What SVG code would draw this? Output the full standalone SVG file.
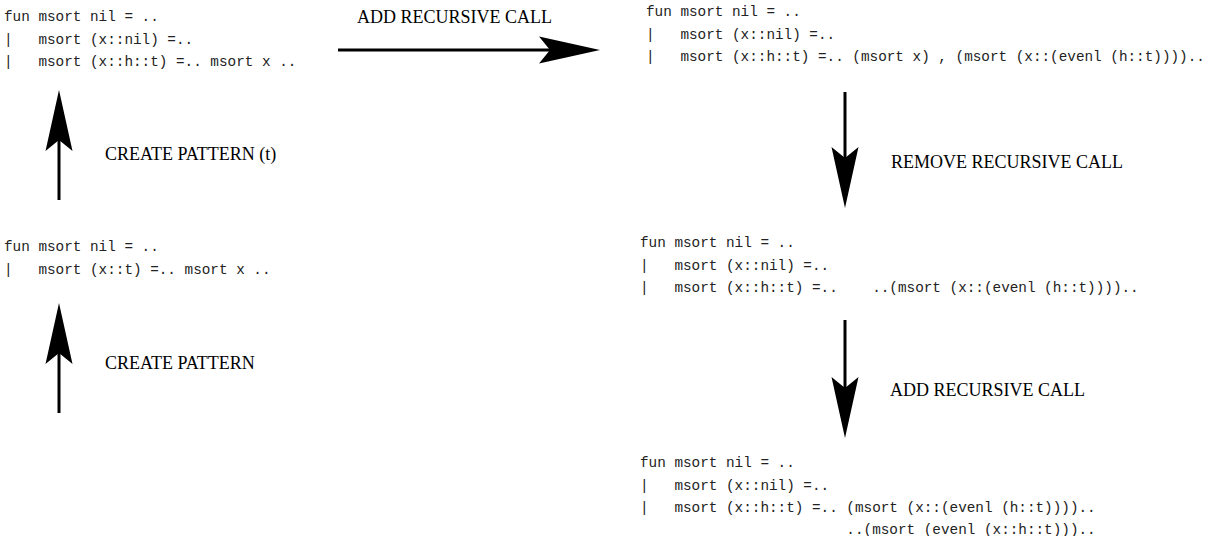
<svg xmlns="http://www.w3.org/2000/svg" width="1215" height="536" viewBox="0 0 1215 536" xml:space="preserve">
<style>
.code{font-family:"Liberation Mono","Courier New",monospace;font-size:14.33px;fill:#222;white-space:pre}
.lbl{font-family:"Liberation Serif","Times New Roman",serif;font-size:18px;fill:#000}
.shaft{stroke:#000;stroke-width:3;fill:none;marker-end:url(#head)}
</style>
<defs>
<marker id="head" markerUnits="userSpaceOnUse" markerWidth="62" markerHeight="28" refX="11" refY="13.5" orient="auto" overflow="visible">
<path d="M0,0 L61,13.5 L0,27 L11,13.5 Z" fill="#000"/>
</marker>
</defs>
<rect width="1215" height="536" fill="#fff"/>
<g id="n1">
<text class="code" x="4" y="21">fun msort nil = ..</text>
<text class="code" x="4" y="43.5">|   msort (x::nil) =..</text>
<text class="code" x="4" y="66">|   msort (x::h::t) =.. msort x ..</text>
</g>
<g id="n2">
<text class="code" x="646" y="16">fun msort nil = ..</text>
<text class="code" x="646" y="38.5">|   msort (x::nil) =..</text>
<text class="code" x="646" y="61">|   msort (x::h::t) =.. (msort x) , (msort (x::(evenl (h::t)))).. </text>
</g>
<g id="n3">
<text class="code" x="640" y="247">fun msort nil = ..</text>
<text class="code" x="640" y="269.5">|   msort (x::nil) =..</text>
<text class="code" x="640" y="292">|   msort (x::h::t) =..    ..(msort (x::(evenl (h::t))))..</text>
</g>
<g id="n4">
<text class="code" x="4" y="251">fun msort nil = ..</text>
<text class="code" x="4" y="273.5">|   msort (x::t) =.. msort x ..</text>
</g>
<g id="n5">
<text class="code" x="640" y="467">fun msort nil = ..</text>
<text class="code" x="640" y="489.5">|   msort (x::nil) =..</text>
<text class="code" x="640" y="512">|   msort (x::h::t) =.. (msort (x::(evenl (h::t))))..</text>
<text class="code" x="640" y="534">                        ..(msort (evenl (x::h::t)))..</text>
</g>
<g id="connectors">
<g id="e1">
<line class="shaft" x1="338" y1="50" x2="550" y2="50"/>
<text class="lbl" x="357" y="23">ADD RECURSIVE CALL</text>
</g>
<g id="e2">
<line class="shaft" x1="59" y1="200" x2="59" y2="140"/>
<text class="lbl" x="105" y="160">CREATE PATTERN (t)</text>
</g>
<g id="e3">
<line class="shaft" x1="59" y1="413" x2="59" y2="353"/>
<text class="lbl" x="105" y="369">CREATE PATTERN</text>
</g>
<g id="e4">
<line class="shaft" x1="845" y1="92" x2="845" y2="158"/>
<text class="lbl" x="891" y="168">REMOVE RECURSIVE CALL</text>
</g>
<g id="e5">
<line class="shaft" x1="845" y1="320" x2="845" y2="388"/>
<text class="lbl" x="890" y="396">ADD RECURSIVE CALL</text>
</g>
</g>
</svg>
